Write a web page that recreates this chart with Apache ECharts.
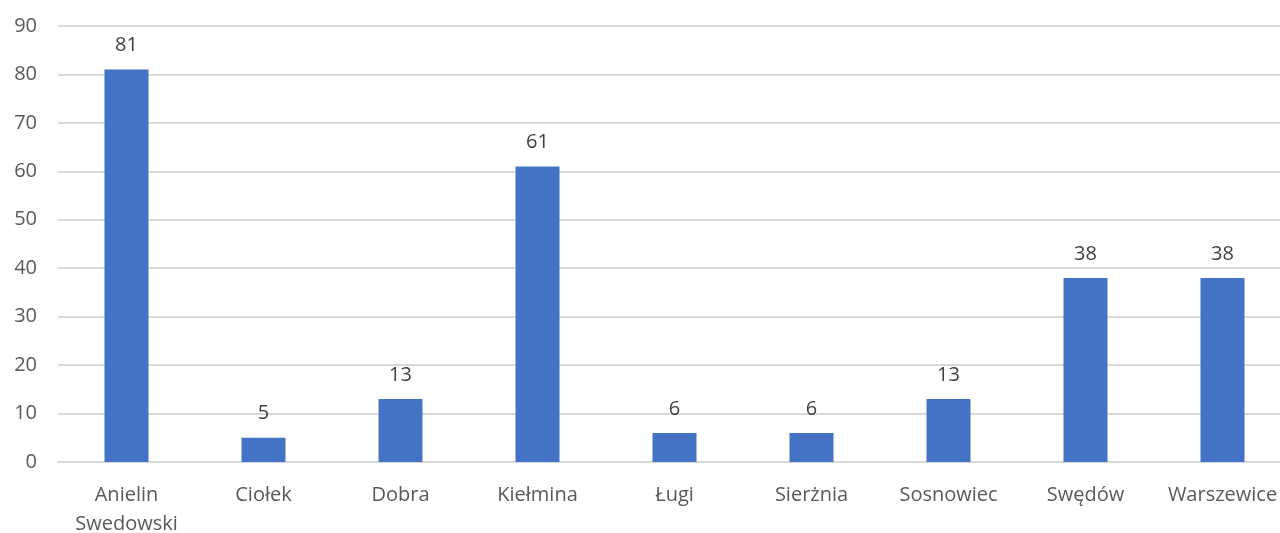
<!DOCTYPE html>
<html><head><meta charset="utf-8">
<script src="https://cdn.jsdelivr.net/npm/echarts@6/dist/echarts.min.js"></script>
<style>html,body{margin:0;padding:0;background:#fff;overflow:hidden;width:1280px;height:533px}#c{width:1291px;height:533px}</style>
</head><body><div id="c"></div>
<script>
const categories = ["Anielin\nSwedowski","Ciołek","Dobra","Kiełmina","Ługi","Sierżnia","Sosnowiec","Swędów","Warszewice"];
const values = [81,5,13,61,6,6,13,38,38];
const yTicks = {min:0,max:90,interval:10};
const chart = echarts.init(document.getElementById('c'));
const font = "'Open Sans', sans-serif";
chart.setOption({
  animation:false,
  grid:{left:58,right:0,top:26,bottom:71,containLabel:false,outerBoundsMode:'none'},
  xAxis:{type:'category',data:categories,
    axisLine:{lineStyle:{color:'#d9d9d9',width:2}},axisTick:{show:false},
    axisLabel:{color:'#595959',fontSize:20,fontFamily:font,margin:19,lineHeight:29,interval:0}},
  yAxis:{type:'value',min:yTicks.min,max:yTicks.max,interval:yTicks.interval,
    axisLine:{show:false},axisTick:{show:false},
    splitLine:{lineStyle:{color:'#d9d9d9',width:2}},
    axisLabel:{color:'#595959',fontSize:20,fontFamily:font,margin:21}},
  series:[{type:'bar',data:values,barWidth:44,itemStyle:{color:'#4472C4'},
    label:{show:true,position:'top',distance:14,color:'#404040',fontSize:20,fontFamily:font}}]
});
</script></body></html>
